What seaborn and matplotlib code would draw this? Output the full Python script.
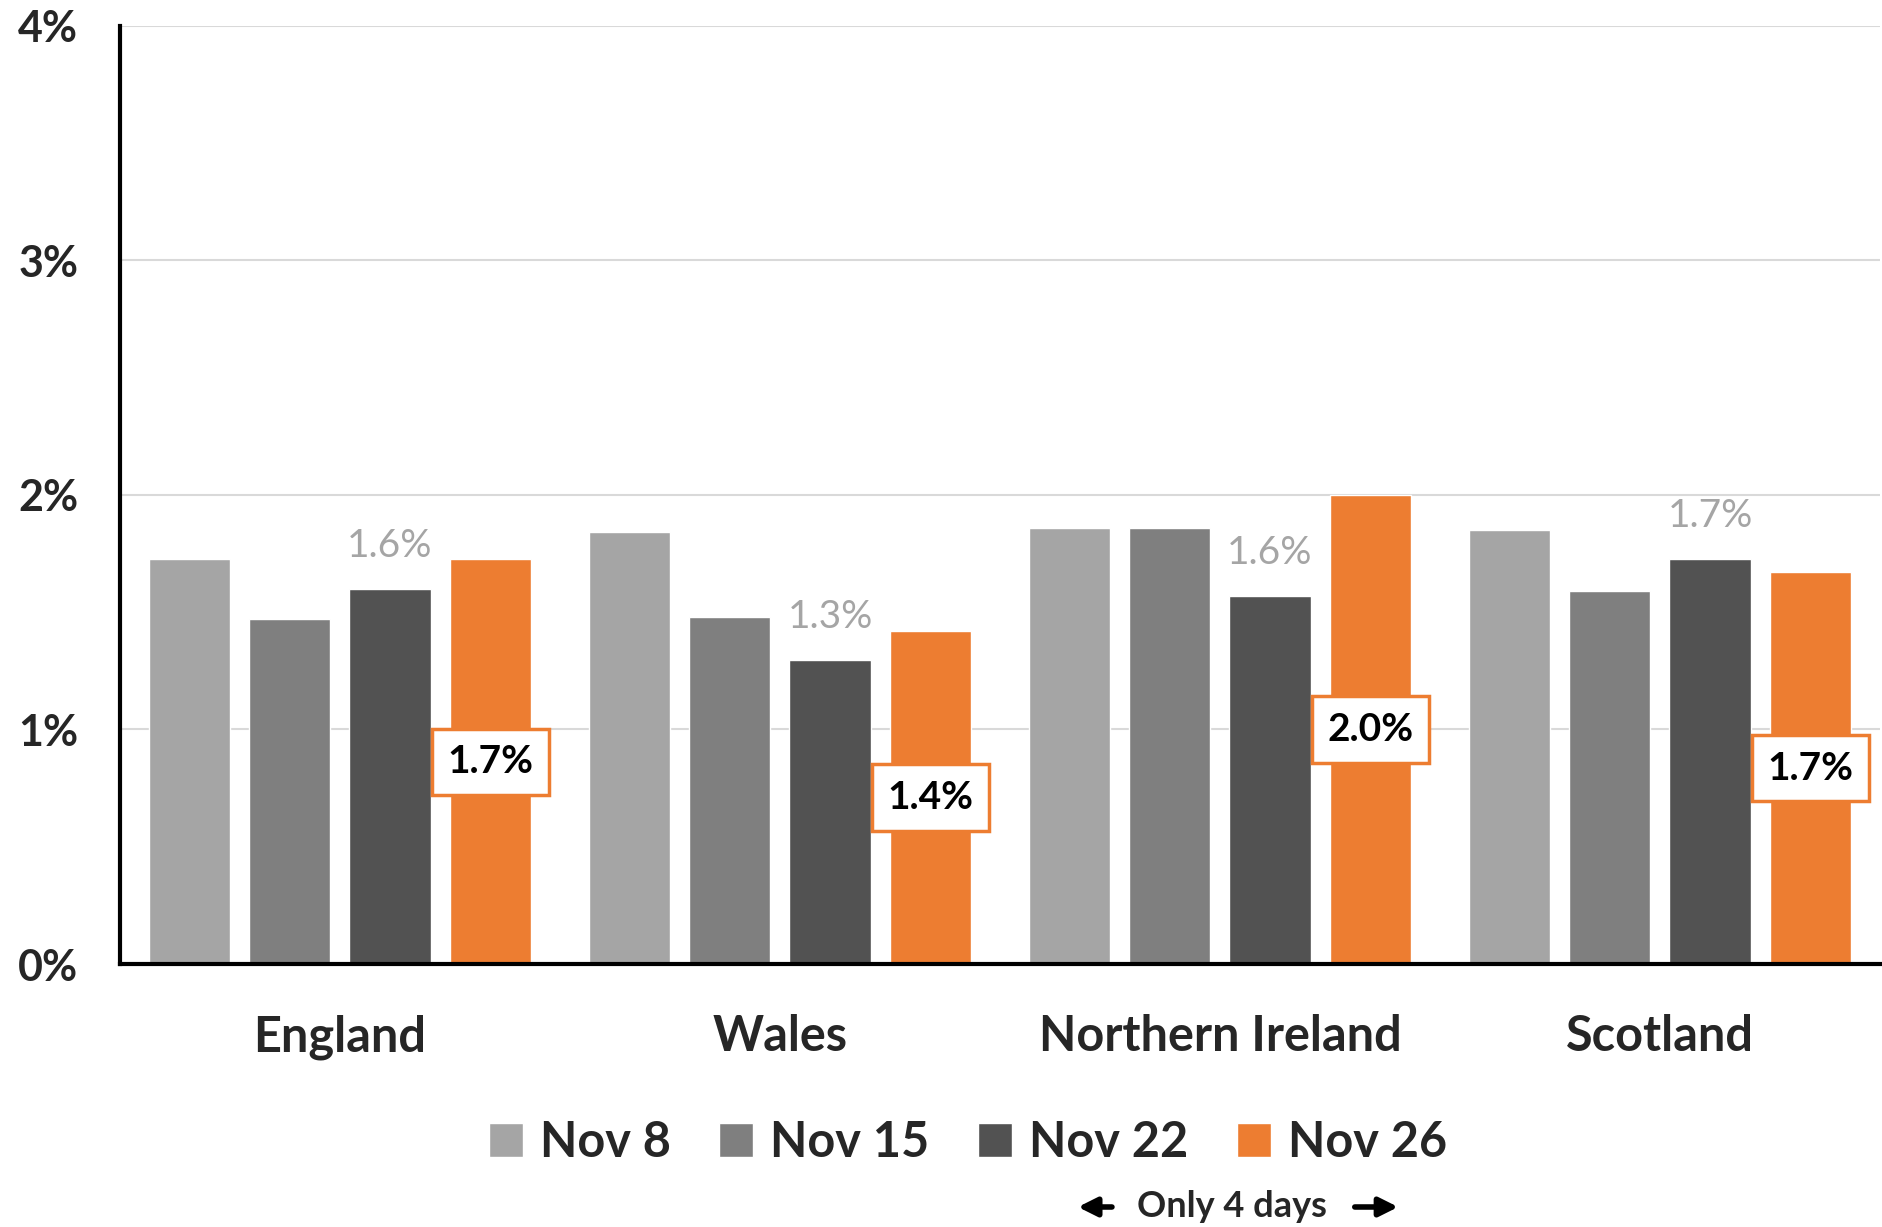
import matplotlib
matplotlib.use('Agg')
import matplotlib.pyplot as plt
import pandas as pd
import seaborn as sns

regions = ['England', 'Wales', 'Northern Ireland', 'Scotland']
weeks = ['Nov 8', 'Nov 15', 'Nov 22', 'Nov 26']
nov8 = [1.725, 1.84, 1.86, 1.85]
nov15 = [1.47, 1.48, 1.86, 1.59]
nov22 = [1.60, 1.295, 1.57, 1.725]
nov26 = [1.725, 1.42, 2.00, 1.67]
nov22_labels = ['1.6%', '1.3%', '1.6%', '1.7%']
nov26_labels = ['1.7%', '1.4%', '2.0%', '1.7%']
yticks = [0, 1, 2, 3, 4]
colors = ['#A5A5A5', '#7F7F7F', '#525252', '#ED7D31']

rows = []
for wk, vals in zip(weeks, [nov8, nov15, nov22, nov26]):
    for reg, v in zip(regions, vals):
        rows.append({'region': reg, 'week': wk, 'value': v})
df = pd.DataFrame(rows)

sns.set_style('white')
plt.rcParams['font.family'] = ['Lato', 'DejaVu Sans']

fig = plt.figure(figsize=(18.83, 12.27), dpi=100)
ax = fig.add_axes([0.0637, 0.2143, 0.9347, 0.7647])

sns.barplot(data=df, x='region', y='value', hue='week', palette=colors,
            width=0.91, gap=0.19, saturation=1, ax=ax, legend=True)

ax.set_xlim(-0.5, 3.5)
ax.set_ylim(0, 4)
ax.set_yticks(yticks)
ax.set_yticklabels([f'{t}%' for t in yticks], fontsize=31, fontweight='bold')
ax.tick_params(axis='y', length=0, pad=30)
ax.tick_params(axis='x', length=0, pad=36, labelsize=35)
for lbl in ax.get_xticklabels():
    lbl.set_fontweight('bold')
ax.set_xlabel('')
ax.set_ylabel('')
ax.yaxis.grid(True, color='#D9D9D9', lw=1.5)
ax.set_axisbelow(True)
for s in ['top', 'right']:
    ax.spines[s].set_visible(False)
ax.spines['left'].set_linewidth(3)
ax.spines['bottom'].set_linewidth(3)
ax.spines['left'].set_color('black')
ax.spines['bottom'].set_color('black')

# bar containers in hue order
cont22 = ax.containers[2]
cont26 = ax.containers[3]
for bar, txt in zip(cont22, nov22_labels):
    x = bar.get_x() + bar.get_width() / 2
    ax.annotate(txt, (x, bar.get_height()), xytext=(0, 31), textcoords='offset points',
                ha='center', va='center', fontsize=28, color='#A5A5A5')
for bar, txt in zip(cont26, nov26_labels):
    x = bar.get_x() + bar.get_width() / 2
    ax.text(x, bar.get_height() / 2, txt, ha='center', va='center', fontsize=28,
            fontweight='bold', color='black',
            bbox=dict(boxstyle='square,pad=0.4', fc='white', ec='#ED7D31', lw=2.5))

ax.legend_.remove()
handles, labels = ax.get_legend_handles_labels()
fig.legend(handles, labels, loc='center', bbox_to_anchor=(0.514, 0.069), ncol=4,
           frameon=False, prop={'size': 35, 'weight': 'bold'}, handlelength=0.7,
           handleheight=0.7, handletextpad=0.35, columnspacing=1.0)

fig.text(0.654, 0.0163, 'Only 4 days', ha='center', va='center', fontsize=26,
         fontweight='bold')
arrow = dict(arrowstyle='-|>', lw=4, color='black', mutation_scale=28)
ax.annotate('', xy=(0.571, 0.0163), xytext=(0.592, 0.0163),
            xycoords='figure fraction', textcoords='figure fraction', arrowprops=arrow)
ax.annotate('', xy=(0.744, 0.0163), xytext=(0.718, 0.0163),
            xycoords='figure fraction', textcoords='figure fraction', arrowprops=arrow)

fig.savefig('out.png', dpi=100)
